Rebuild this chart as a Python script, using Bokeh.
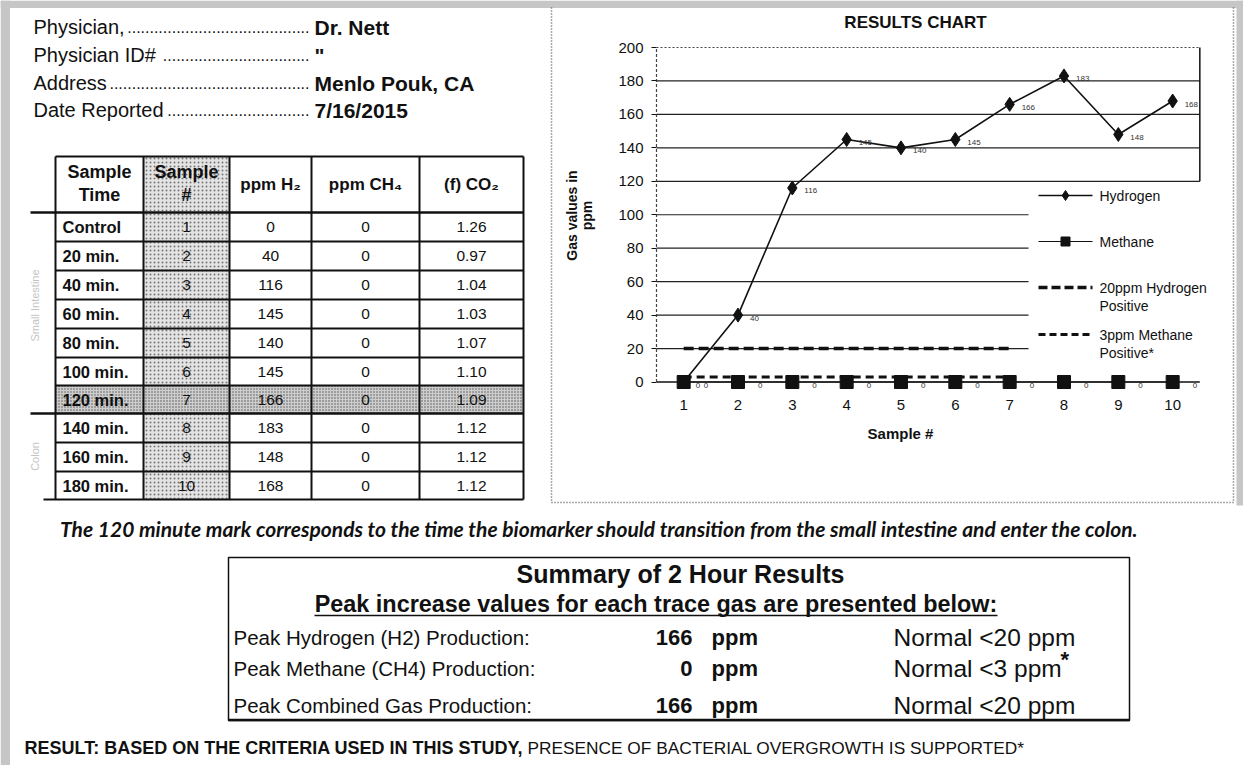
import math
from bokeh.plotting import figure
from bokeh.models import Range1d, FixedTicker, LinearAxis
from bokeh.core.properties import value
from bokeh.embed import file_html
from bokeh.resources import INLINE

# ---------------- data ----------------
sample_num = [1, 2, 3, 4, 5, 6, 7, 8, 9, 10]
sample_time = ["Control", "20 min.", "40 min.", "60 min.", "80 min.", "100 min.",
               "120 min.", "140 min.", "160 min.", "180 min."]
ppm_h2 = [0, 40, 116, 145, 140, 145, 166, 183, 148, 168]
ppm_ch4 = [0, 0, 0, 0, 0, 0, 0, 0, 0, 0]
co2_f = [1.26, 0.97, 1.04, 1.03, 1.07, 1.10, 1.09, 1.12, 1.12, 1.12]

positive_samples = [1, 2, 3, 4, 5, 6, 7]
h2_positive_ppm = [20, 20, 20, 20, 20, 20, 20]
ch4_positive_ppm = [3, 3, 3, 3, 3, 3, 3]

y_ticks = [0, 20, 40, 60, 80, 100, 120, 140, 160, 180, 200]
legend_names = ["Hydrogen", "Methane", "20ppm Hydrogen", "3ppm Methane"]
legend_second = ["Positive", "Positive*"]

info_labels = ["Physician,", "Physician ID#", "Address", "Date Reported"]
info_values = ["Dr. Nett", "\"", "Menlo Pouk, CA", "7/16/2015"]
info_dots = [41, 33, 45, 32]

header_cells = [["Sample", "Time"], ["Sample", "#"], ["ppm H\u2082"], ["ppm CH\u2084"], ["(f) CO\u2082"]]

summary_labels = ["Peak Hydrogen (H2) Production:", "Peak Methane (CH4) Production:",
                  "Peak Combined Gas Production:"]
summary_values = [166, 0, 166]
summary_normals = ["Normal <20 ppm", "Normal <3 ppm", "Normal <20 ppm"]

FONT = "Liberation Sans"
INK = "#111111"
W, H = 1243, 765

# chart placement on the page (pixels)
PX_PER_X = 54.333
PX_PER_Y = 1.6725
X05_PX = 656.0      # where sample 0.5 sits
Y0_PX = 381.5       # where 0 ppm sits


def xd(px):
    return 0.5 + (px - X05_PX) / PX_PER_X


def yd(py):
    return (Y0_PX - py) / PX_PER_Y


p = figure(width=W, height=H, x_range=Range1d(0, W), y_range=Range1d(H, 0),
           x_axis_location=None, y_axis_location=None, toolbar_location=None,
           output_backend="svg", min_border=0, title=None)
p.grid.visible = False
p.outline_line_color = None
p.background_fill_color = "white"
p.border_fill_color = "white"
p.extra_x_ranges = {"cx": Range1d(xd(0), xd(W))}
p.extra_y_ranges = {"cy": Range1d(yd(H), yd(0))}
C = dict(x_range_name="cx", y_range_name="cy")


def txt(x, y, s, size, bold=False, italic=False, align="left", baseline="middle",
        color=INK, font=FONT, angle=0.0):
    style = "normal"
    if bold and italic:
        style = "bold italic"
    elif bold:
        style = "bold"
    elif italic:
        style = "italic"
    p.text(x=[x], y=[y], text=[s], text_font=value(font), text_font_size=f"{size}px",
           text_font_style=style, text_align=align, text_baseline=baseline,
           text_color=color, angle=angle)


# ---------------- page frame (scan background) ----------------
p.quad(left=[0], right=[W], top=[0], bottom=[7.5], fill_color="#c6c6c6", line_color=None)
p.quad(left=[0], right=[9.5], top=[0], bottom=[H], fill_color="#c6c6c6", line_color=None)
p.quad(left=[1236], right=[W], top=[0], bottom=[505], fill_color="#c6c6c6", line_color=None)

# ---------------- info block ----------------
info_y = [28, 56, 84, 111]
for lab, val, nd, yc in zip(info_labels, info_values, info_dots, info_y):
    txt(33, yc - 1.5, lab, 20, baseline="alphabetic")
    txt(309, yc - 1.5, "." * nd, 16, align="right", baseline="alphabetic")
    txt(314, yc - 1.5, val, 21, bold=True, baseline="alphabetic")

# ---------------- table ----------------
col_x = [55, 143, 229, 311, 419, 523]
head_top, head_bot = 156, 212
row_edges = [212, 241, 270, 299, 328, 357, 385, 413, 442, 471, 499]

p.quad(left=[col_x[1]], right=[col_x[2]], top=[head_top], bottom=[row_edges[-1]],
       fill_color="#e4e4e4", line_color=None, hatch_pattern=".", hatch_scale=4,
       hatch_color="#777777", hatch_weight=1)
p.quad(left=[col_x[0]], right=[col_x[-1]], top=[row_edges[6]], bottom=[row_edges[7]],
       fill_color="#cdcdcd", line_color=None, hatch_pattern=".", hatch_scale=3,
       hatch_color="#555555", hatch_weight=1)

p.segment(x0=[col_x[0]], y0=[head_top], x1=[col_x[-1]], y1=[head_top], line_color=INK, line_width=2)
p.segment(x0=[30], y0=[head_bot], x1=[col_x[-1]], y1=[head_bot], line_color=INK, line_width=2.5)
inner = [e for i, e in enumerate(row_edges) if 0 < i < len(row_edges) - 1 and i != 7]
p.segment(x0=[col_x[0]] * len(inner), y0=inner, x1=[col_x[-1]] * len(inner), y1=inner,
          line_color=INK, line_width=2)
p.segment(x0=[30], y0=[row_edges[7]], x1=[col_x[-1]], y1=[row_edges[7]], line_color=INK, line_width=2.5)
p.segment(x0=[43], y0=[row_edges[-1]], x1=[col_x[-1]], y1=[row_edges[-1]], line_color=INK, line_width=2)
p.segment(x0=col_x, y0=[head_top] * 6, x1=col_x, y1=[row_edges[-1]] * 6, line_color=INK, line_width=2)

col_c = [(col_x[i] + col_x[i + 1]) / 2 for i in range(5)]
for c, cell in zip(col_c, header_cells):
    if len(cell) == 2:
        txt(c, 171, cell[0], 18, bold=True, align="center")
        txt(c, 194, cell[1], 18, bold=True, align="center")
    else:
        txt(c, 184, cell[0], 17, bold=True, align="center")

row_c = [(row_edges[i] + row_edges[i + 1]) / 2 for i in range(10)]
cell_style = dict(text_font=value(FONT), text_font_size="15.5px", text_align="center",
                  text_baseline="middle", text_color=INK)
p.text(x=[62] * 10, y=row_c, text=sample_time, text_font=value(FONT), text_font_size="16.5px",
       text_font_style="bold", text_align="left", text_baseline="middle", text_color=INK)
p.text(x=[col_c[1]] * 10, y=row_c, text=[str(v) for v in sample_num], **cell_style)
p.text(x=[col_c[2]] * 10, y=row_c, text=[str(v) for v in ppm_h2], **cell_style)
p.text(x=[col_c[3]] * 10, y=row_c, text=[str(v) for v in ppm_ch4], **cell_style)
p.text(x=[col_c[4]] * 10, y=row_c, text=[f"{v:.2f}" for v in co2_f], **cell_style)

txt(34, 305, "Small Intestine", 11, align="center", color="#c4c4c4", angle=math.pi / 2)
txt(34, 456, "Colon", 11, align="center", color="#c4c4c4", angle=math.pi / 2)

# chart box (dotted scan border)
box_style = dict(line_color="#555555", line_width=1.5, line_dash="1 2")
p.segment(x0=[551, 551, 1233], y0=[7, 502, 7], x1=[551, 1233, 1233], y1=[502, 502, 502], **box_style)

# ---------------- chart ----------------
xax = LinearAxis(fixed_location=0, ticker=FixedTicker(ticks=sample_num), **C)
xax.axis_line_color = None
xax.major_tick_line_color = None
xax.minor_tick_line_color = None
xax.major_label_text_font = FONT
xax.major_label_text_font_size = "15px"
xax.major_label_text_color = INK
xax.major_label_standoff = 12
p.add_layout(xax, "below")

yax = LinearAxis(fixed_location=0.5, ticker=FixedTicker(ticks=y_ticks), **C)
yax.axis_line_color = None
yax.major_tick_line_color = INK
yax.major_tick_out = 5
yax.major_tick_in = 0
yax.minor_tick_line_color = None
yax.major_label_text_font = FONT
yax.major_label_text_font_size = "15px"
yax.major_label_text_color = INK
yax.major_label_standoff = 8
p.add_layout(yax, "left")

# y-axis title (two lines, rotated)
txt(571, 215, "Gas values in", 14, bold=True, align="center", angle=math.pi / 2)
txt(586, 215, "ppm", 14, bold=True, align="center", angle=math.pi / 2)

full_grid = [t for t in y_ticks if 120 <= t <= 180]
part_grid = [t for t in y_ticks if 20 <= t <= 100]
p.segment(x0=[0.5] * len(full_grid), y0=full_grid, x1=[10.5] * len(full_grid), y1=full_grid,
          line_color="#222222", line_width=1.2, **C)
p.segment(x0=[0.5] * len(part_grid), y0=part_grid, x1=[xd(1028)] * len(part_grid), y1=part_grid,
          line_color="#222222", line_width=1.2, **C)
p.segment(x0=[0.5], y0=[0], x1=[10.5], y1=[0], line_color=INK, line_width=1.5, **C)
p.segment(x0=[0.5], y0=[200], x1=[10.5], y1=[200], line_color="#444444", line_width=1.2,
          line_dash="2 2", **C)
p.segment(x0=[10.5], y0=[120], x1=[10.5], y1=[200], line_color=INK, line_width=1.5, **C)
p.segment(x0=[0.5], y0=[0], x1=[0.5], y1=[200], line_color="#444444", line_width=1.2,
          line_dash="3 2", **C)

p.line(positive_samples, h2_positive_ppm, line_color=INK, line_width=3.5, line_dash="10 5", **C)
p.line(positive_samples, ch4_positive_ppm, line_color=INK, line_width=3, line_dash="8 5", **C)

p.line(sample_num, ppm_ch4, line_color=INK, line_width=1.2, **C)
p.scatter(sample_num, ppm_ch4, marker="square", size=13, fill_color=INK, line_color=INK, **C)
p.text(sample_num, ppm_ch4, text=[str(v) for v in ppm_ch4], x_offset=20, y_offset=3,
       text_font=value(FONT), text_font_size="8px", text_baseline="middle", text_color="#333333", **C)

p.line(sample_num, ppm_h2, line_color=INK, line_width=1.6, **C)
p.scatter(sample_num, ppm_h2, marker="diamond", size=14, fill_color=INK, line_color=INK, **C)
p.text(sample_num, ppm_h2, text=[str(v) for v in ppm_h2], x_offset=12, y_offset=3,
       text_font=value(FONT), text_font_size="8px", text_baseline="middle", text_color="#333333", **C)

# legend
leg_py = [195, 241, 287, 334]
lx0, lx1, ltx = 1038, 1092, 1099
lmid = (lx0 + lx1) / 2
p.segment(x0=[lx0], y0=[leg_py[0]], x1=[lx1], y1=[leg_py[0]], line_color=INK, line_width=1.6)
p.scatter([lmid], [leg_py[0]], marker="diamond", size=10, fill_color=INK, line_color=INK)
p.segment(x0=[lx0], y0=[leg_py[1]], x1=[lx1], y1=[leg_py[1]], line_color=INK, line_width=1.2)
p.scatter([lmid], [leg_py[1]], marker="square", size=9, fill_color=INK, line_color=INK)
p.segment(x0=[lx0], y0=[leg_py[2]], x1=[lx1], y1=[leg_py[2]], line_color=INK, line_width=3.5, line_dash="9 4")
p.segment(x0=[lx0], y0=[leg_py[3]], x1=[lx1], y1=[leg_py[3]], line_color=INK, line_width=3, line_dash="7 4")
p.text([ltx] * 4, leg_py, text=legend_names, text_font=value(FONT), text_font_size="14px",
       text_baseline="middle", text_color=INK)
p.text([ltx] * 2, [305, 352], text=legend_second, text_font=value(FONT),
       text_font_size="14px", text_baseline="middle", text_color=INK)

txt(915, 22, "RESULTS CHART", 17, bold=True, align="center")
txt(900, 433, "Sample #", 15, bold=True, align="center")

# ---------------- bottom block ----------------
txt(599, 528, "The 120 minute mark corresponds to the time the biomarker should transition "
    "from the small intestine and enter the colon.", 21, bold=True, italic=True,
    align="center", font="Lato")

p.quad(left=[228], right=[1129], top=[557], bottom=[720], fill_color=None, line_color=INK, line_width=1.5)
p.segment(x0=[228], y0=[719.5], x1=[1129], y1=[719.5], line_color=INK, line_width=2.5)
txt(680, 573, "Summary of 2 Hour Results", 25, bold=True, align="center")
txt(655.5, 603, "Peak increase values for each trace gas are presented below:", 23.4, bold=True,
    align="center")
p.segment(x0=[314], y0=[615], x1=[997], y1=[615], line_color=INK, line_width=1.6)

sum_y = [637, 668, 705]
p.text(x=[233] * 3, y=sum_y, text=summary_labels, text_font=value(FONT), text_font_size="20.5px",
       text_align="left", text_baseline="middle", text_color=INK)
p.text(x=[692] * 3, y=sum_y, text=[str(v) for v in summary_values], text_font=value(FONT),
       text_font_size="22px", text_font_style="bold", text_align="right", text_baseline="middle",
       text_color=INK)
p.text(x=[711] * 3, y=sum_y, text=["ppm"] * 3, text_font=value(FONT),
       text_font_size="22px", text_font_style="bold", text_align="left", text_baseline="middle",
       text_color=INK)
p.text(x=[893] * 3, y=sum_y, text=summary_normals, text_font=value(FONT), text_font_size="24.5px",
       text_align="left", text_baseline="middle", text_color=INK)
txt(1060, 659, "*", 22, bold=True)

txt(24, 747, "RESULT: BASED ON THE CRITERIA USED IN THIS STUDY,", 18, bold=True)
txt(527, 747, "PRESENCE OF BACTERIAL OVERGROWTH IS SUPPORTED*", 17.3)

with open("out.html", "w") as f:
    f.write(file_html(p, INLINE))
